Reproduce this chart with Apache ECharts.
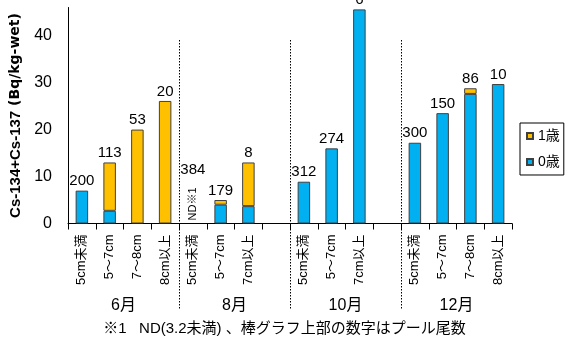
<!DOCTYPE html>
<html>
<head>
<meta charset="utf-8">
<script src="https://cdn.jsdelivr.net/npm/echarts@6/dist/echarts.min.js"></script>
<style>
  html, body { margin: 0; padding: 0; background: #fff; }
  #chart { width: 569px; height: 343px; }
</style>
</head>
<body>
<div id="chart"></div>
<script>
// Size classes per survey month (blank slots keep the month groups equal width)
const categories = ['5cm未満', '5～7cm', '7～8cm', '8cm以上',
                    '5cm未満', '5～7cm', '7cm以上', '',
                    '5cm未満', '5～7cm', '7cm以上', '',
                    '5cm未満', '5～7cm', '7～8cm', '8cm以上'];
const months = ['6月', '8月', '10月', '12月'];

// Cs-134+Cs-137 (Bq/kg-wet), '-' = no sample / not present
const age0 = [7.0, 2.7, '-', '-', 0, 4.0, 3.7, '-', 8.9, 16.0, 45.6, '-', 17.2, 23.5, 27.6, 29.7];
const age1 = ['-', 10.3, 20.0, 26.1, '-', 1.0, 9.3, '-', '-', '-', '-', '-', '-', '-', 1.2, '-'];

// Number of fish pooled for each measurement
const poolCounts = ['200', '113', '53', '20', '384', '179', '8', '', '312', '274', '6', '', '300', '150', '86', '10'];

const NOT_DETECTED_INDEX = 4;

const FONT = "'Liberation Sans', 'Noto Sans CJK JP', sans-serif";
const BAR_BORDER = '#404040';

const chart = echarts.init(document.getElementById('chart'), null, { renderer: 'canvas' });

const age0Data = age0.map((v, i) => i === NOT_DETECTED_INDEX ? {
  value: v,
  itemStyle: { borderWidth: 0 },
  label: {
    show: true, position: 'top', rotate: 90, align: 'left', verticalAlign: 'middle',
    distance: 3, formatter: 'ND※1', fontSize: 11, fontFamily: FONT, color: '#000'
  }
} : v);

const poolData = poolCounts.map((c, i) => {
  if (c === '') return '-';
  if (i === NOT_DETECTED_INDEX) return { value: 0, label: { offset: [0, -44] } };
  return 0;
});

chart.setOption({
  animation: false,
  title: {
    text: '※1   ND(3.2未満) 、棒グラフ上部の数字はプール尾数',
    left: 'center', top: 321, padding: 0,
    textStyle: { fontSize: 15, fontWeight: 'normal', color: '#000', fontFamily: FONT }
  },
  legend: {
    data: ['1歳', '0歳'],
    orient: 'vertical',
    left: 520, top: 123,
    padding: [6, 4, 6, 6],
    itemGap: 12, itemWidth: 6, itemHeight: 6,
    icon: 'rect',
    borderColor: '#000', borderWidth: 1, backgroundColor: '#fff',
    textStyle: { fontSize: 14, color: '#000', fontFamily: FONT }
  },
  grid: { left: 68, right: 57, top: 7.5, bottom: 119.5, containLabel: false },
  xAxis: [{
    type: 'category',
    data: categories,
    axisLine: { lineStyle: { color: '#000', width: 1 } },
    axisTick: { show: true, length: 6, lineStyle: { color: '#000' }, interval: 0 },
    axisLabel: { rotate: 90, interval: 0, fontSize: 13, margin: 11, color: '#000', fontFamily: FONT }
  }, {
    type: 'category',
    data: months,
    position: 'bottom',
    offset: 74,
    axisLine: { show: false },
    axisTick: { show: false },
    axisLabel: { fontSize: 16, margin: 0, color: '#000', fontFamily: FONT }
  }],
  yAxis: {
    type: 'value',
    min: 0, max: 46, interval: 10,
    name: '{a|Cs-134+Cs-137}{b| (Bq/kg-wet)}',
    nameLocation: 'middle',
    nameGap: 33,
    nameTextStyle: {
      fontSize: 15, fontWeight: 'bold', color: '#000', fontFamily: "'Liberation Sans', sans-serif",
      rich: {
        a: { fontSize: 15, fontWeight: 'bold', color: '#000', fontFamily: "'Liberation Sans', sans-serif" },
        b: { fontSize: 14, fontWeight: 'bold', color: '#000', fontFamily: "'DejaVu Sans', sans-serif" }
      }
    },
    axisLine: { show: true, lineStyle: { color: '#000', width: 1 } },
    axisTick: { show: false },
    splitLine: { show: false },
    axisLabel: {
      fontSize: 16, margin: 16, color: '#000', fontFamily: FONT, showMaxLabel: false,
      formatter: v => (v % 10 === 0 ? String(v) : '')
    }
  },
  series: [{
    name: '0歳', type: 'bar', stack: 'total', barWidth: 12.5,
    itemStyle: { color: '#00B0F0', borderColor: BAR_BORDER, borderWidth: 1 },
    data: age0Data
  }, {
    name: '1歳', type: 'bar', stack: 'total', barWidth: 12.5,
    itemStyle: { color: '#FFC000', borderColor: BAR_BORDER, borderWidth: 1 },
    data: age1
  }, {
    name: 'pool', type: 'bar', stack: 'total', barWidth: 12.5,
    itemStyle: { color: 'transparent', borderWidth: 0 },
    label: {
      show: true, position: 'top', distance: 2, fontSize: 15, color: '#000', fontFamily: FONT,
      formatter: p => poolCounts[p.dataIndex]
    },
    data: poolData,
    silent: true
  }]
});

// Dotted separators between the month groups
const sep = [];
for (let g = 1; g < months.length; g++) {
  const last = g * 4 - 1;
  const a = chart.convertToPixel({ xAxisIndex: 0 }, last);
  const b = chart.convertToPixel({ xAxisIndex: 0 }, last + 1);
  const x = Math.round((a + b) / 2) + 0.5;
  sep.push({
    type: 'line',
    shape: { x1: x, y1: 40, x2: x, y2: 310 },
    style: { stroke: '#000', lineWidth: 1, lineDash: [1.5, 1.5] },
    silent: true
  });
}
chart.setOption({ graphic: sep });
</script>
</body>
</html>
